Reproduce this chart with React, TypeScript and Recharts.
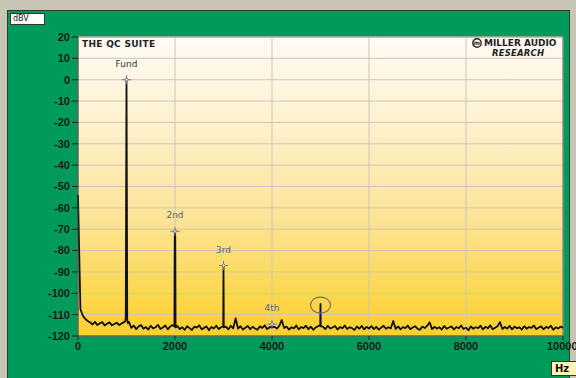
import {
  ComposedChart,
  Line,
  Scatter,
  XAxis,
  YAxis,
  CartesianGrid,
  ReferenceLine,
  LabelList,
} from 'recharts';

// Spectrum noise floor, one reading every 50 Hz from 0 to 10000 Hz (dBV).
const FLOOR_STEP_HZ = 50;
const floorLevels = [
  -54, -107.5, -110.5, -112, -113, -113.6, -114.6, -113.4, -114.9, -114.0, -113.5, -115.1, -114.2, -113.6, -115.0, -114.4, -113.8, -114.9, -114.1, -113.5,
  -114, -113.4, -116.2, -115.1, -116.8, -115.5, -114.9, -116.6, -115.8, -117.0, -115.2, -116.4, -115.9, -114.8, -116.7, -116.0, -115.1, -116.9, -115.6, -114.9,
  -116, -115.3, -116.8, -115.9, -117.1, -115.4, -116.3, -117.2, -115.6, -116.1, -115.0, -116.9, -116.2, -115.5, -117.3, -115.8, -116.5, -115.2, -116.7, -115.9,
  -116, -115.6, -116.9, -115.2, -116.4, -111.8, -116.6, -115.4, -117.0, -116.1, -115.3, -116.8, -115.7, -116.5, -117.1, -115.5, -116.2, -115.0, -116.8, -115.9,
  -116, -115.7, -116.5, -115.3, -112.5, -116.3, -115.6, -117.0, -115.9, -116.4, -115.1, -116.9, -115.8, -116.3, -115.2, -116.8, -115.6, -117.1, -116.0, -115.4,
  -116, -115.6, -116.8, -115.2, -116.5, -116.0, -115.3, -117.0, -115.8, -116.4, -115.1, -116.7, -115.9, -116.3, -117.2, -115.5, -116.6, -115.3, -116.9, -115.7,
  -116.5, -115.4, -116.8, -115.7, -117.0, -116.1, -115.2, -116.6, -115.9, -116.4, -113.0, -116.7, -115.5, -116.9, -115.8, -116.3, -115.1, -116.8, -116.0, -115.4,
  -116.6, -117.1, -115.6, -116.3, -115.2, -113.6, -116.8, -115.7, -116.5, -115.9, -117.0, -115.3, -116.6, -116.0, -115.5, -116.9, -115.8, -116.4, -115.1, -116.7,
  -116.1, -117.3, -115.5, -116.6, -115.9, -116.3, -115.2, -116.9, -115.7, -116.4, -115.0, -116.8, -116.1, -115.4, -113.5, -116.7, -115.8, -116.5, -115.3, -116.9,
  -115.6, -116.4, -115.9, -117.0, -115.4, -116.6, -115.8, -116.2, -115.1, -116.8, -116.0, -115.5, -116.9, -115.7, -116.3, -115.2, -117.1, -115.9, -116.5, -115.6,
  -116.2,
];

// FFT bins around the harmonic peaks
const peakBinFreqs = [
  975, 985, 992, 1000, 1008, 1015, 1025,
  1988, 1994, 2000, 2006, 2012,
  2994, 3000, 3006,
  3994, 4000, 4006,
  4994, 5000, 5006,
];
const peakBinLevels = [
  -113, -111, -56, 0, -56, -112, -114,
  -115.5, -74.5, -71, -74.5, -116,
  -115.5, -87, -116,
  -116, -114.5, -116,
  -115, -105, -115.5,
];

// Marked harmonics
const harmonicNames = ['Fund', '2nd', '3rd', '4th'];
const harmonicFreqs = [1000, 2000, 3000, 4000];
const harmonicLevels = [0, -71, -87, -114.5];

// Circled spur
const spurFreq = 5000;
const spurLevel = -105.5;

const xTicks = [0, 2000, 4000, 6000, 8000, 10000];
const yTicks = [-120, -110, -100, -90, -80, -70, -60, -50, -40, -30, -20, -10, 0, 10, 20];

const peakSet = new Set(harmonicFreqs.concat([spurFreq]));
const spectrum = floorLevels
  .map((db, i) => ({ f: i * FLOOR_STEP_HZ, db }))
  .filter((p) => !peakSet.has(p.f))
  .concat(peakBinFreqs.map((f, i) => ({ f, db: peakBinLevels[i] })))
  .sort((a, b) => a.f - b.f);

const markers = harmonicFreqs.map((f, i) => ({ f, db: harmonicLevels[i], name: harmonicNames[i] }));
const spur = [{ f: spurFreq, db: spurLevel }];

const tickFont = { fontFamily: '"Liberation Sans", Arial, sans-serif', fontSize: 11, fontWeight: 700, fill: '#1a1a1a' };

const CrossMarker = (props: any) => {
  const { cx, cy } = props;
  if (cx == null || cy == null) return null;
  return (
    <g stroke="#6d7396" strokeWidth={1}>
      <line x1={cx - 4.5} y1={cy} x2={cx + 4.5} y2={cy} />
      <line x1={cx} y1={cy - 4.5} x2={cx} y2={cy + 4.5} />
      <path d={`M${cx},${cy - 2} L${cx + 2},${cy} L${cx},${cy + 2} L${cx - 2},${cy} Z`} fill="#c9cbe0" />
    </g>
  );
};

const SpurRing = (props: any) => {
  const { cx, cy } = props;
  if (cx == null || cy == null) return null;
  return <ellipse cx={cx} cy={cy} rx={10} ry={8} fill="none" stroke="#707070" strokeWidth={1.2} />;
};

const HarmonicLabel = (props: any) => {
  const { x, y, width, height, value } = props;
  const cx = x + (width ?? 0) / 2;
  const cy = y + (height ?? 0) / 2;
  return (
    <text
      x={cx}
      y={cy - 13}
      textAnchor="middle"
      fontFamily='"DejaVu Sans", sans-serif'
      fontSize={9}
      fill={value === 'Fund' ? '#333' : '#56608a'}
    >
      {value}
    </text>
  );
};

export default function App() {
  return (
    <div style={{ position: 'fixed', left: 0, top: 0, width: 576, height: 378, background: '#c8c5b5', overflow: 'hidden' }}>
      {/* green instrument panel */}
      <div
        style={{
          position: 'absolute',
          left: 7,
          top: 10,
          width: 561,
          height: 370,
          background: '#009a5b',
          borderLeft: '1px solid #2a3b30',
          borderTop: '1px solid #2a3b30',
          borderRight: '1px solid #2a3b30',
        }}
      />
      <div style={{ position: 'absolute', left: 0, top: 0 }}>
        <ComposedChart width={576} height={378} margin={{ top: 37, right: 13, bottom: 12, left: 38 }}>
          <defs>
            <linearGradient id="plotBg" x1="0" y1="0" x2="0" y2="1">
              <stop offset="0%" stopColor="#fffbf5" />
              <stop offset="30%" stopColor="#fef1cc" />
              <stop offset="60%" stopColor="#fde497" />
              <stop offset="100%" stopColor="#fcd02a" />
            </linearGradient>
          </defs>
          <CartesianGrid fill="url(#plotBg)" fillOpacity={1} stroke="#cbc6bb" strokeWidth={1} />
          <XAxis
            type="number"
            dataKey="f"
            domain={[0, 10000]}
            ticks={xTicks}
            height={30}
            tick={tickFont}
            tickSize={4}
            tickMargin={2}
            axisLine={{ stroke: '#333' }}
            tickLine={{ stroke: '#222' }}
            allowDuplicatedCategory={false}
          />
          <YAxis
            type="number"
            dataKey="db"
            domain={[-120, 20]}
            ticks={yTicks}
            width={40}
            tick={tickFont}
            tickSize={6}
            tickMargin={2}
            axisLine={{ stroke: '#333' }}
            tickLine={{ stroke: '#222' }}
            interval={0}
          />
          <ReferenceLine y={20} stroke="#a8a49a" />
          <ReferenceLine x={10000} stroke="#6a6a6a" />
          <Line
            data={spectrum}
            dataKey="db"
            type="linear"
            stroke="#111"
            strokeWidth={1.8}
            strokeLinejoin="round"
            dot={false}
            isAnimationActive={false}
          />
          <Scatter data={markers} dataKey="db" shape={<CrossMarker />} isAnimationActive={false}>
            <LabelList dataKey="name" content={<HarmonicLabel />} />
          </Scatter>
          <Scatter data={spur} dataKey="db" shape={<SpurRing />} isAnimationActive={false} />
        </ComposedChart>
      </div>

      {/* unit boxes */}
      <div
        style={{
          position: 'absolute',
          left: 10,
          top: 13,
          width: 31,
          height: 10,
          background: '#fff',
          border: '1px solid #333',
          fontFamily: '"DejaVu Sans", sans-serif',
          fontSize: 8,
          lineHeight: '10px',
          paddingLeft: 2,
          color: '#111',
        }}
      >
        dBV
      </div>
      <div
        style={{
          position: 'absolute',
          left: 551,
          top: 361,
          width: 30,
          height: 13,
          background: '#fff6b4',
          border: '1px solid #333',
          fontFamily: '"DejaVu Sans", sans-serif',
          fontSize: 10,
          fontWeight: 700,
          lineHeight: '13px',
          paddingLeft: 3,
          color: '#111',
        }}
      >
        Hz
      </div>

      {/* title and logo inside the plot */}
      <div
        style={{
          position: 'absolute',
          left: 82,
          top: 39,
          fontFamily: '"DejaVu Sans", sans-serif',
          fontSize: 9,
          fontWeight: 700,
          letterSpacing: 0.3,
          color: '#222',
        }}
      >
        THE QC SUITE
      </div>
      <div style={{ position: 'absolute', left: 472, top: 38, width: 89, fontFamily: '"DejaVu Sans", sans-serif', color: '#1e1e1e' }}>
        <div style={{ display: 'flex', alignItems: 'center', gap: 2, fontSize: 9, fontWeight: 700, lineHeight: '10px' }}>
          <svg width={10} height={10}>
            <circle cx={5} cy={5} r={4.2} fill="none" stroke="#222" strokeWidth={1.4} />
            <text x={5} y={7.3} textAnchor="middle" fontSize={6} fontWeight={700} fill="#222">m</text>
          </svg>
          <span>MILLER AUDIO</span>
        </div>
        <div style={{ fontSize: 8.5, fontWeight: 700, fontStyle: 'italic', lineHeight: '10px', paddingLeft: 20, letterSpacing: 0.2 }}>
          RESEARCH
        </div>
      </div>
    </div>
  );
}
